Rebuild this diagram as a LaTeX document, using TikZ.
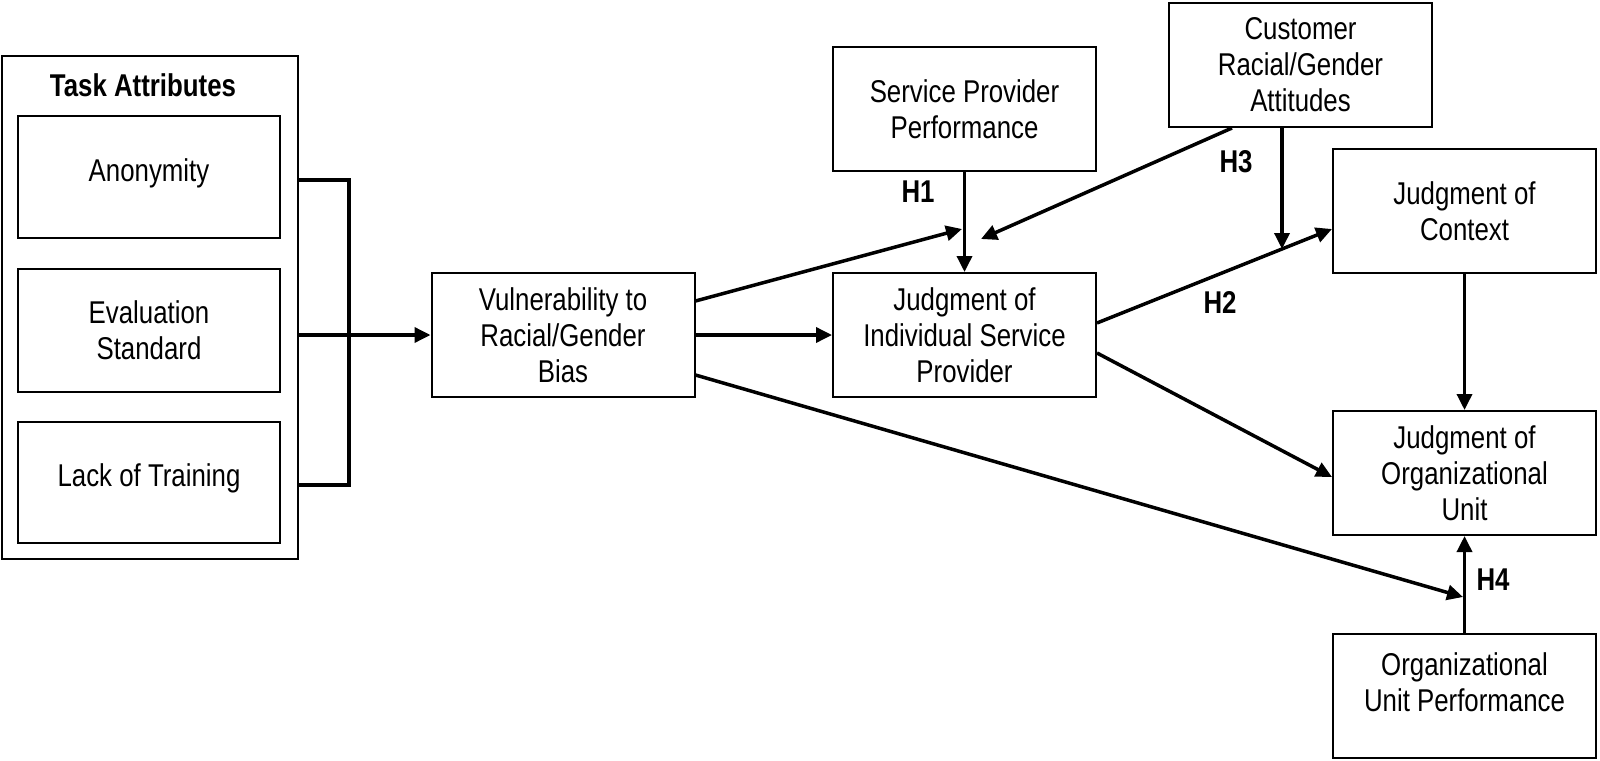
\documentclass[tikz,border=0pt]{standalone}
\usepackage{fontspec}
\setmainfont[FakeStretch=0.82]{Liberation Sans}
\usetikzlibrary{arrows.meta,calc}
\begin{document}
\begin{tikzpicture}[x=0.5pt,y=-0.5pt,
  txt/.style={font=\fontsize{15.75}{18}\selectfont},
  box/.style={txt,draw,line width=1pt,minimum width=131.5pt,minimum height=62pt,inner sep=0pt,align=center},
  conn/.style={line width=1.75pt},
  arr/.style={conn,-{Triangle[length=8pt,width=7.5pt]}},
  hlab/.style={font=\fontsize{15.75}{18}\selectfont\bfseries}]
\useasboundingbox (0,0) rectangle (1600,760);

% Task attributes group
\node[draw,line width=1pt,minimum width=148pt,minimum height=251.5pt,inner sep=0pt] (outer) at (150,307.5) {};
\node[hlab] (ta) at (143,85) {Task Attributes};
\node[box,minimum width=131pt,minimum height=61pt,text depth=7.3pt] (anon) at (149,177) {Anonymity};
\node[box,minimum width=131pt,minimum height=61.5pt] (evals) at (149,330.5) {Evaluation\\Standard};
\node[box,minimum width=131pt,minimum height=60.5pt,text depth=7.3pt] (lack) at (149,482.5) {Lack of Training};

% main boxes
\node[box] (vul) at (563,335) {Vulnerability to\\Racial/Gender\\Bias};
\node[box] (spp) at (964.5,109) {Service Provider\\Performance};
\node[box] (jis) at (964.5,335) {Judgment of\\Individual Service\\Provider};
\node[box] (cust) at (1300.5,65) {Customer\\Racial/Gender\\Attitudes};
\node[box] (ctx) at (1464.5,211) {Judgment of\\Context};
\node[box] (ou) at (1464.5,473) {Judgment of\\Organizational\\Unit};
\node[box] (op) at (1464.5,696) {\raisebox{1.2pt}[0pt][0pt]{\begin{tabular}{@{}c@{}}Organizational\\Unit Performance\end{tabular}}};

% hypothesis labels
\node[hlab] (h1) at (918,192) {H1};
\node[hlab] (h2) at (1220,302) {H2};
\node[hlab] (h3) at (1236,162) {H3};
\node[hlab] (h4) at (1493,580) {H4};

% bracket
\coordinate (jA) at (349,180);
\coordinate (jC) at (349,485);
\draw[conn] (outer.east |- jA) -- (jA) -- (jC) -- (outer.east |- jC);
\draw[arr] (outer.east |- vul.west) -- (vul.west);

% connectors
\coordinate (m1) at (962,229);
\coordinate (m3) at (981,239);
\coordinate (m2) at (1282,249);
\coordinate (m4) at (1463,597);

\draw[arr] (vul.east) -- (jis.west);
\draw[arr] ($(vul.east)+(0,-34)$) -- (m1);
\draw[arr] (spp) -- (jis);
\draw[arr] ($(cust.south)+(-68.5,0)$) -- (m3);
\draw[arr] ($(jis.east)+(0,-12)$) -- ($(ctx.west)+(0,18)$);
\draw[arr] (cust.south -| m2) -- (m2);
\draw[arr] (ctx) -- (ou);
\draw[arr] ($(jis.east)+(0,18)$) -- ($(ou.west)+(0,4)$);
\draw[arr] ($(vul.east)+(0,40)$) -- (m4);
\draw[arr] (op) -- (ou);
\end{tikzpicture}
\end{document}
